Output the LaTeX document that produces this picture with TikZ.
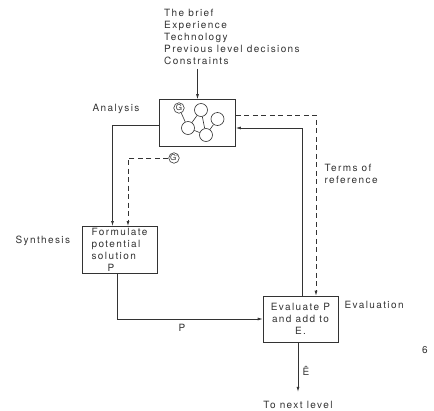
\documentclass[tikz,border=0pt]{standalone}
\usepackage{fontspec}
\setmainfont{TeX Gyre Heros}[LetterSpace=14]
\usetikzlibrary{arrows.meta,positioning,calc}
\definecolor{ink}{HTML}{333333}

\begin{document}
\begin{tikzpicture}[x=1pt, y=-1pt, font=\fontsize{10}{12}\selectfont, color=ink,
    stagebox/.style={rectangle, draw=ink, line width=0.7pt, minimum width=76pt, minimum height=47pt, inner sep=2pt},
    arr/.style={-{Latex[length=5pt,width=3pt]}, line width=0.7pt},
    dsh/.style={dash pattern=on 5pt off 3.5pt},
    blob/.style={circle, draw=ink, line width=0.6pt, minimum size=13pt, inner sep=0pt},
    gmark/.style={circle, draw=ink, line width=0.6pt, minimum size=10.5pt, inner sep=0pt, font=\fontsize{8}{8}\selectfont}
]
    \useasboundingbox (0,0) rectangle (434,410);

    % inputs
    \node[anchor=north west, align=left, inner sep=0pt] (inputs) at (164,9)
        {The brief\\Experience\\Technology\\Previous level decisions\\Constraints};

    % stages
    \node[stagebox] (ana) at (197.5,123) {};
    \node (analbl) at (116,109) {Analysis};

    \node[stagebox, minimum width=75pt, minimum height=46pt, align=left] (form) at (119.5,250)
        {Formulate\\potential\\solution\\\hspace{1.6em}P};
    \node[left=8pt of form.west, yshift=9pt] (synlbl) {Synthesis};

    \node[stagebox, minimum width=75pt, minimum height=46pt, align=center] (eval) at (300.5,319)
        {Evaluate P\\and add to\\E.};
    \node[anchor=west] (evallbl) at (341,305) {Evaluation};

    % graph inside analysis
    \node[gmark] (g) at (179,108) {G};
    \node[blob] (c1) at (201,110) {};
    \node[blob] (c2) at (217.5,119) {};
    \node[blob] (c3) at (188,128) {};
    \node[blob] (c4) at (206,135) {};
    \draw[line width=0.6pt] (g) -- (c3);
    \draw[line width=0.6pt] (c1) -- (c3);
    \draw[line width=0.6pt] (c1) -- (c4);
    \draw[line width=0.6pt] (c3) -- (c4);
    \draw[line width=0.6pt] (c4) -- (c2);

    \node[gmark] (gp) at (174,158) {G\textquotesingle};

    % connectors
    \draw[arr] (ana.north |- inputs.south) ++(0,4) -- (ana.north);
    \draw[arr] ($(ana.west)+(0,2)$) -| ($(form.north)+(-7,0)$);
    \draw[arr, dsh] (gp.west) -| ($(form.north)+(8.5,0)$);
    \draw[arr] ($(form.south)+(-2.5,0)$) |- (eval.west);
    \node (plbl) at (182,328) {P};

    \draw[arr] ($(eval.north)+(2,0)$) |- ($(ana.east)+(0,5)$);
    \draw[arr, dsh] ($(ana.east)+(0,-8)$) -| ($(eval.north)+(15.5,0)$);
    \node[anchor=west, align=left] (terms) at (321,174) {Terms of\\reference};

    \node (next) at (298,405) {To next level};
    \draw[arr] ($(eval.south)+(-2.5,0)$) -- ($(eval.south |- next.north)+(-2.5,-6)$);
    \node (ehat) at (306,371) {\^E};

    \node (fig) at (425,350) {6};
\end{tikzpicture}
\end{document}
